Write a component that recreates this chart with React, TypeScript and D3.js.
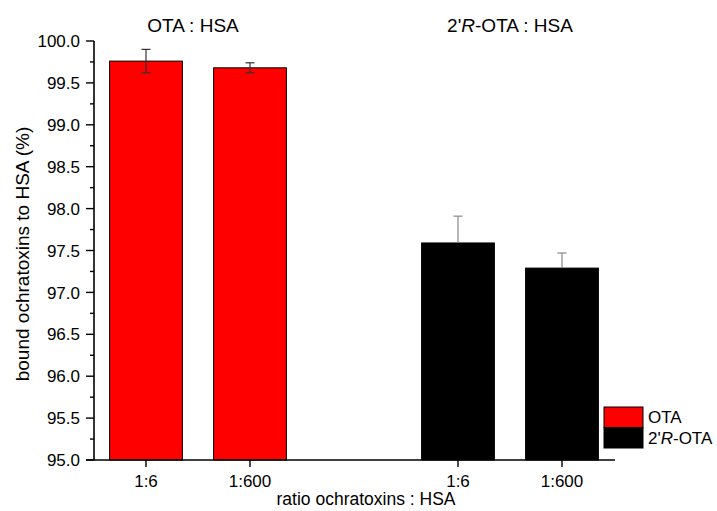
import React from "react";
import * as d3 from "d3";

// values
const ratios = ["1:6", "1:600"];
const groups = ["OTA", "2'R-OTA"];
const otaValues = [99.76, 99.68];
const otaErrors = [0.14, 0.06];
const rotaValues = [97.59, 97.29];
const rotaErrors = [0.32, 0.18];
const yTicks = [95.0, 95.5, 96.0, 96.5, 97.0, 97.5, 98.0, 98.5, 99.0, 99.5, 100.0];
const groupColors = ["#ff0000", "#000000"];

const W = 717;
const H = 511;
const FONT = "'Liberation Sans', Arial, sans-serif";

// small helper for the italic R label
function RLabel({ prefix = "", suffix }: { prefix?: string; suffix: string }) {
  return (
    <>
      {prefix}2'<tspan fontStyle="italic">R</tspan>
      {suffix}
    </>
  );
}

export default function App() {
  const x = d3.scaleLinear().domain([0.5, 5.5]).range([94, 614]);
  const y = d3.scaleLinear().domain([95, 100]).range([460, 41]);
  const barW = x(0.7) - x(0);

  const minorTicks = d3.range(95.25, 100, 0.5);

  const bars = groups.flatMap((g, gi) => {
    const vals = gi === 0 ? otaValues : rotaValues;
    const errs = gi === 0 ? otaErrors : rotaErrors;
    return ratios.map((r, ri) => ({
      group: g,
      gi,
      ratio: r,
      pos: gi * 3 + ri + 1,
      value: vals[ri],
      err: errs[ri],
    }));
  });

  const groupCenters = groups.map((_, gi) => (x(gi * 3 + 1) + x(gi * 3 + 2)) / 2);

  return (
    <svg
      width={W}
      height={H}
      style={{ position: "absolute", left: 0, top: 0, background: "#fff" }}
      fontFamily={FONT}
    >
      {/* bars */}
      {bars.map((b, i) => (
        <rect
          key={i}
          x={x(b.pos) - barW / 2}
          y={y(b.value)}
          width={barW}
          height={y(95) - y(b.value)}
          fill={groupColors[b.gi]}
          stroke="#000"
          strokeWidth={1}
        />
      ))}

      {/* error bars */}
      {bars.map((b, i) => {
        const cx = x(b.pos);
        const top = y(b.value + b.err);
        const bot = y(b.value - b.err);
        const col = b.gi === 0 ? "#333" : "#888";
        return (
          <g key={i} stroke={col} strokeWidth={1.2}>
            <line x1={cx} x2={cx} y1={top} y2={b.gi === 0 ? bot : y(b.value)} />
            <line x1={cx - 4.5} x2={cx + 4.5} y1={top} y2={top} />
            {b.gi === 0 && <line x1={cx - 4.5} x2={cx + 4.5} y1={bot} y2={bot} />}
          </g>
        );
      })}

      {/* y axis */}
      <line x1={94} x2={94} y1={y(100)} y2={y(95)} stroke="#000" strokeWidth={1.6} />
      {yTicks.map((t) => (
        <g key={t}>
          <line x1={86} x2={94} y1={y(t)} y2={y(t)} stroke="#000" strokeWidth={1.4} />
          <text x={80} y={y(t)} dy="0.36em" textAnchor="end" fontSize={17} fill="#000">
            {t.toFixed(1)}
          </text>
        </g>
      ))}
      {minorTicks.map((t) => (
        <line key={t} x1={90} x2={94} y1={y(t)} y2={y(t)} stroke="#000" strokeWidth={1.4} />
      ))}

      {/* x axis */}
      <line x1={86} x2={615} y1={y(95)} y2={y(95)} stroke="#000" strokeWidth={1.6} />
      {bars.map((b, i) => (
        <g key={i}>
          <line x1={x(b.pos)} x2={x(b.pos)} y1={y(95)} y2={y(95) + 7} stroke="#000" strokeWidth={1.4} />
          <text x={x(b.pos)} y={487} textAnchor="middle" fontSize={17} fill="#000">
            {b.ratio}
          </text>
        </g>
      ))}

      {/* axis titles */}
      <text x={366} y={505} textAnchor="middle" fontSize={17.5} fill="#000">
        ratio ochratoxins : HSA
      </text>
      <text
        transform={`translate(29,254) rotate(-90)`}
        textAnchor="middle"
        fontSize={19}
        fill="#000"
      >
        bound ochratoxins to HSA (%)
      </text>

      {/* group titles */}
      <text x={groupCenters[0] - 5} y={32} textAnchor="middle" fontSize={19} fill="#000">
        OTA : HSA
      </text>
      <text x={groupCenters[1]} y={32} textAnchor="middle" fontSize={19} fill="#000">
        <RLabel suffix="-OTA : HSA" />
      </text>

      {/* legend */}
      {groups.map((g, gi) => (
        <g key={g} transform={`translate(604,${407 + gi * 20.5})`}>
          <rect width={39} height={20.5} fill={groupColors[gi]} stroke="#000" strokeWidth={1} />
          <text x={44} y={16} fontSize={17} fill="#000">
            {gi === 0 ? g : <RLabel suffix="-OTA" />}
          </text>
        </g>
      ))}
    </svg>
  );
}
